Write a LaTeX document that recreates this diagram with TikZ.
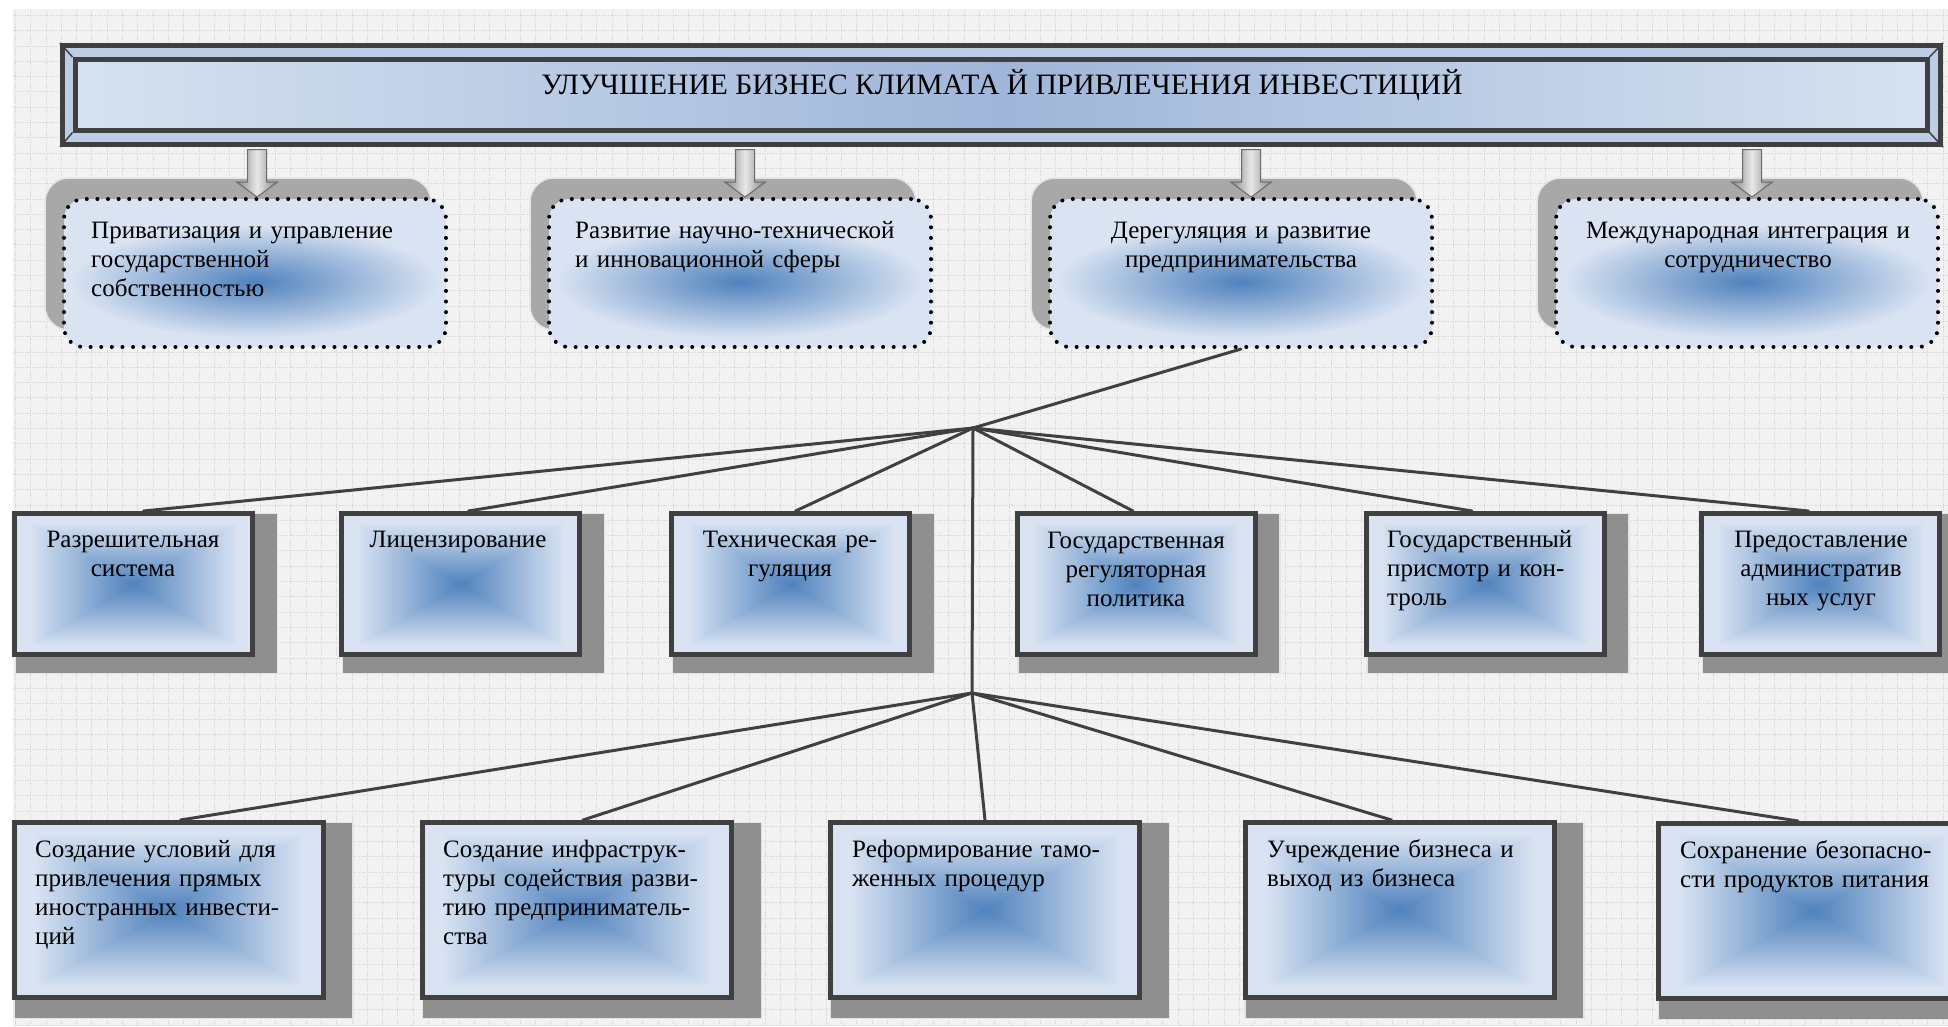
\documentclass[tikz,border=0pt]{standalone}
\usepackage{fontspec}
\setmainfont{Liberation Serif}
\usetikzlibrary{calc}
\pgfdeclarelayer{bg}
\pgfdeclarelayer{shd}
\pgfsetlayers{bg,shd,main}
\definecolor{bdr}{HTML}{404040}
\definecolor{bgc}{HTML}{F2F2F2}
\definecolor{gridc}{HTML}{D6D6D6}
\definecolor{shgray}{HTML}{8F8F8F}
\definecolor{shtop}{HTML}{A8A8A8}
\definecolor{shedge}{HTML}{E4E4E4}
\definecolor{pan1}{HTML}{D7E2F0}
\definecolor{pan2}{HTML}{9FB6D9}
\definecolor{bevel}{HTML}{BDCDE6}
\definecolor{arrg}{HTML}{858585}
\definecolor{arrl}{HTML}{E8E8E8}

\pgfdeclarefunctionalshading{boxshade}{\pgfpoint{0bp}{0bp}}{\pgfpoint{100bp}{100bp}}{}{
 50 sub abs exch 50 sub abs
 2 copy lt {exch} if pop
 25 div 1.15 mul dup 1 gt {pop 1} if
 dup 0.54 mul 0.31 add exch dup 0.38 mul 0.51 add exch 0.21 mul 0.74 add
}
\pgfdeclarefunctionalshading{blobshade}{\pgfpoint{0bp}{0bp}}{\pgfpoint{100bp}{100bp}}{}{
 47 sub 19 div dup mul exch 50 sub 24 div dup mul add sqrt
 dup 1 gt {pop 1} if
 dup 0.54 mul 0.31 add exch dup 0.38 mul 0.51 add exch 0.21 mul 0.74 add
}

\tikzset{
  topbox/.style={shade, shading=blobshade, draw=black, line width=4pt,
    dash pattern=on 0pt off 10.6pt, line cap=round, rounded corners=20pt,
    minimum width=382pt, minimum height=148pt, inner sep=0pt},
  midbox/.style={shade, shading=boxshade, draw=bdr, line width=5pt,
    minimum width=238pt, minimum height=141pt, inner sep=0pt},
  botbox/.style={shade, shading=boxshade, draw=bdr, line width=5pt,
    minimum width=309pt, minimum height=175pt, inner sep=0pt},
  topshadow/.style={fill=shtop, draw=shedge, line width=1.5pt, rounded corners=24pt},
  boxshadow/.style={fill=shgray, draw=shedge, line width=1.2pt},
  conn/.style={draw=bdr, line width=3pt, line cap=round},
  arrstyle/.style={left color=arrg, right color=arrg, middle color=arrl, draw=arrg!80!black, line width=1pt},
  txt/.style={font=\fontsize{25}{29}\selectfont, inner sep=0pt, text=black},
  lt/.style={txt, align=left, anchor=base west, text width=400pt},
  ct/.style={txt, align=center, anchor=base, text width=400pt},
}

\begin{document}
\begin{tikzpicture}[x=1pt, y=-1pt]
\useasboundingbox (0,0) rectangle (1948,1026);

\begin{pgfonlayer}{bg}
  \fill[bgc] (13,9) rectangle (1948,1026);
  \draw[gridc, line width=0.7pt, dash pattern=on 1.2pt off 1.2pt] (13,9) grid[step=15.3pt] (1948,1026);
\end{pgfonlayer}

% title banner
\node[draw=bdr, line width=5pt, fill=bevel, minimum width=1878pt, minimum height=99pt, inner sep=0pt] (ban) at (1001.5,95) {};
\node[draw=bdr, line width=5pt, left color=pan1, right color=pan1, middle color=pan2, minimum width=1852pt, minimum height=70.5pt, inner sep=0pt] (bani) at (1001,94.75) {};
\draw[bdr, line width=1.5pt] (ban.north west) -- (bani.north west) (ban.north east) -- (bani.north east)
  (ban.south west) -- (bani.south west) (ban.south east) -- (bani.south east);
\node[font=\fontsize{29.6}{33}\selectfont, inner sep=0pt, anchor=base] (title) at (1002,94) {УЛУЧШЕНИЕ БИЗНЕС КЛИМАТА Й ПРИВЛЕЧЕНИЯ ИНВЕСТИЦИЙ};

% top row
\node[topbox] (t1) at (255,273) {};
\node[topbox] (t2) at (740,273) {};
\node[topbox] (t3) at (1241,273) {};
\node[topbox] (t4) at (1747,273) {};
\node[lt] (t1x) at (91,238) {Приватизация и управление\\государственной\\собственностью};
\node[lt] (t2x) at (575,238) {Развитие научно-технической\\и инновационной сферы};
\node[ct] (t3x) at (1241,238) {Дерегуляция и развитие\\предпринимательства};
\node[ct] (t4x) at (1748,238) {Международная интеграция и\\сотрудничество};

% middle row
\node[midbox] (m1) at (133.5,584) {};
\node[midbox] (m2) at (460.5,584) {};
\node[midbox] (m3) at (790.5,584) {};
\node[midbox] (m4) at (1136,584) {};
\node[midbox] (m5) at (1485,584) {};
\node[midbox] (m6) at (1820.5,584) {};
\node[ct] (m1x) at (133,547) {Разрешительная\\система};
\node[ct] (m2x) at (458,547) {Лицензирование};
\node[ct] (m3x) at (790,547) {Техническая ре-\\гуляция};
\node[ct] (m4x) at (1136,548) {Государственная\\регуляторная\\политика};
\node[lt] (m5x) at (1387,547) {Государственный\\присмотр и кон-\\троль};
\node[ct] (m6x) at (1821,547) {Предоставление\\административ\\ных услуг};

% bottom row
\node[botbox] (b1) at (168.5,910) {};
\node[botbox] (b2) at (577,910) {};
\node[botbox] (b3) at (985,910) {};
\node[botbox] (b4) at (1399.5,910) {};
\node[botbox] (b5) at (1813,911) {};
\node[lt] (b1x) at (35,857) {Создание условий для\\привлечения прямых\\иностранных инвести-\\ций};
\node[lt] (b2x) at (443,857) {Создание инфраструк-\\туры содействия разви-\\тию предприниматель-\\ства};
\node[lt] (b3x) at (852,857) {Реформирование тамо-\\женных процедур};
\node[lt] (b4x) at (1267,857) {Учреждение бизнеса и\\выход из бизнеса};
\node[lt] (b5x) at (1680,858) {Сохранение безопасно-\\сти продуктов питания};

% shadows
\begin{pgfonlayer}{shd}
  \foreach \nm in {t1,t2,t3,t4}
    \draw[topshadow] ($(\nm.north west)+(-17,-19)$) rectangle ($(\nm.south east)+(-17,-19)$);
  \foreach \nm in {m1,m2,m3,m4,m5,m6}
    \draw[boxshadow] ($(\nm.north west)+(3.5,2.5)$) rectangle ($(\nm.south east)+(22.5,16.5)$);
  \foreach \nm in {b1,b2,b3,b4,b5}
    \draw[boxshadow] ($(\nm.north west)+(2.5,2.5)$) rectangle ($(\nm.south east)+(27.5,18.5)$);
\end{pgfonlayer}

% block arrows from banner
\foreach \nm/\sh in {t1/2,t2/5,t3/10,t4/5}
  \path[arrstyle] let \p1=($(\nm.north)+(\sh,0)$), \p2=(ban.south) in
    (\x1-9.5pt,\y2-2.5pt) -- (\x1+9.5pt,\y2-2.5pt) -- (\x1+9.5pt,\y1+15pt) -- (\x1+20.5pt,\y1+15pt)
    -- (\x1,\y1) -- (\x1-20.5pt,\y1+15pt) -- (\x1-9.5pt,\y1+15pt) -- cycle;

% connectors
\coordinate (h1) at (973,428);
\coordinate (h2) at (972,693);
\draw[conn] (t3.south) -- (h1);
\foreach \m/\o in {m1/10,m2/8,m3/5,m4/-3,m5/-13,m6/-12}
  \draw[conn] (h1) -- ([xshift=\o pt]\m.north);
\draw[conn] (h1) -- (h2);
\foreach \m/\o in {b1/12,b2/6,b3/0,b4/-8,b5/-15}
  \draw[conn] (h2) -- ([xshift=\o pt]\m.north);
\end{tikzpicture}
\end{document}
